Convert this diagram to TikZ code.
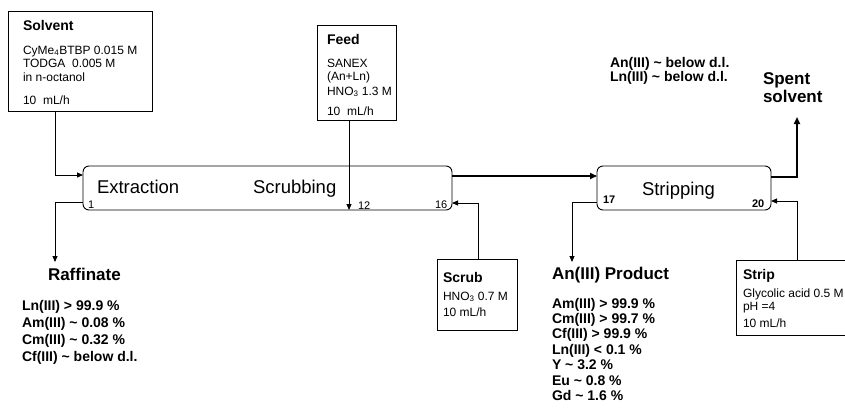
\documentclass[tikz,border=0pt]{standalone}
\usepackage{fontspec}
\setmainfont{Liberation Sans}
\usetikzlibrary{arrows.meta}
\begin{document}
\begin{tikzpicture}[x=1pt,y=-1pt,
  every node/.style={inner sep=0pt, outer sep=0pt},
  box/.style={draw, line width=0.8pt},
  unit/.style={draw, line width=0.9pt, rounded corners=6pt},
  txt/.style={anchor=base west, font=\fontsize{12}{14}\selectfont},
  ttl/.style={anchor=base west, font=\fontsize{14}{16}\selectfont\bfseries},
  big/.style={anchor=base west, font=\fontsize{17}{20}\selectfont\bfseries},
  res/.style={anchor=base west, font=\fontsize{14}{16}\selectfont\bfseries},
  stage/.style={anchor=base west, font=\fontsize{18.5}{22}\selectfont},
  num/.style={anchor=base west, font=\fontsize{11}{13}\selectfont},
  bnum/.style={anchor=base west, font=\fontsize{11}{13}\selectfont\bfseries},
  arr/.style={-{Triangle[length=6pt,width=5pt]}, line width=0.9pt},
  warr/.style={-{Triangle[length=7pt,width=6pt]}, line width=1.6pt},
]
\clip (0,0) rectangle (845,410);
\fill[white] (0,0) rectangle (845,410);

% boxes
\node[box, minimum width=144pt, minimum height=100pt] (solvent) at (80,61) {};
\node[box, minimum width=79pt, minimum height=95pt] (feed) at (356.5,72.5) {};
\node[unit, minimum width=369pt, minimum height=44pt] (extr) at (267.5,188) {};
\node[unit, minimum width=174pt, minimum height=44pt] (strp) at (684,188) {};
\node[box, minimum width=80pt, minimum height=71pt] (scrub) at (477,294.5) {};
\node[box, minimum width=130pt, minimum height=75pt] (strip) at (801,297.5) {};

% solvent text
\node[ttl] (solt) at (23,30) {Solvent};
\node[txt] (sol1) at (23,54) {CyMe\textsubscript{4}BTBP 0.015 M};
\node[txt] (sol2) at (23,67) {TODGA\ \ 0.005 M};
\node[txt] (sol3) at (23,81) {in n-octanol};
\node[txt] (sol4) at (23,104) {10\ \ mL/h};

% feed text
\node[ttl] (feedt) at (327,44) {Feed};
\node[txt] (feed1) at (327,67) {SANEX};
\node[txt] (feed2) at (327,80.5) {(An+Ln)};
\node[txt] (feed3) at (327,95) {HNO\textsubscript{3} 1.3 M};
\node[txt] (feed4) at (327,115) {10\ \ mL/h};

% top right
\node[res] (ov1) at (610,67) {An(III) \textasciitilde\ below d.l.};
\node[res] (ov2) at (610,81) {Ln(III) \textasciitilde\ below d.l.};
\node[big] (sp1) at (763,84) {Spent};
\node[big] (sp2) at (763,102) {solvent};

% stage labels
\node[stage] (lext) at (97,193) {Extraction};
\node[stage] (lscr) at (253,193) {Scrubbing};
\node[stage] (lstr) at (642,195) {Stripping};
\node[num] (n1) at (88,208) {1};
\node[num] (n12) at (358,209) {12};
\node[num] (n16) at (435,208) {16};
\node[bnum] (n17) at (603,203) {17};
\node[bnum] (n20) at (752,207) {20};

% raffinate
\node[big] (raf) at (48,280) {Raffinate};
\foreach \t [count=\i from 0] in {Ln(III) > 99.9 \%, Am(III) \textasciitilde\ 0.08 \%, Cm(III) \textasciitilde\ 0.32 \%, Cf(III) \textasciitilde\ below d.l.}
  \node[res] (raf\i) at (22,{310+17*\i}) {\t};

% product
\node[big] (prod) at (552,279) {An(III) Product};
\foreach \t [count=\i from 0] in {Am(III) > 99.9 \%, Cm(III) > 99.7 \%, Cf(III) > 99.9 \%, Ln(III) < 0.1 \%, Y \textasciitilde\ 3.2 \%, Eu \textasciitilde\ 0.8 \%, Gd \textasciitilde\ 1.6 \%}
  \node[res] (prod\i) at (552,{308+15.4*\i}) {\t};

% scrub text
\node[ttl] (scrt) at (443,282) {Scrub};
\node[txt] (scr1) at (443,300) {HNO\textsubscript{3} 0.7 M};
\node[txt] (scr2) at (443,316) {10 mL/h};

% strip text
\node[ttl] (stt) at (743,279) {Strip};
\node[txt] (st1) at (743,297) {Glycolic acid 0.5 M};
\node[txt] (st2) at (743,310) {pH =4};
\node[txt] (st3) at (743,327) {10 mL/h};

% end points
\coordinate (rafend) at (55,262);
\coordinate (prodend) at (572,262);
\coordinate (spentend) at (797,117);

% connectors
\draw[arr] ([xshift=-25pt]solvent.south) |- ([yshift=13pt]extr.west);
\draw[arr] ([yshift=-14pt]extr.west) -| (rafend);
\draw[arr] ([xshift=-7.5pt]feed.south) -- ([xshift=-7.5pt]feed.south |- extr.south);
\draw[arr] ([xshift=1.5pt]scrub.north) |- ([yshift=-15pt]extr.east);
\draw[warr] ([yshift=12pt]extr.east) -- ([yshift=12pt]strp.west);
\draw[arr] ([yshift=-14pt]strp.west) -| (prodend);
\draw[arr] ([xshift=-4pt]strip.north) |- ([yshift=-13pt]strp.east);
\draw[warr] ([yshift=11pt]strp.east) -| (spentend);
\end{tikzpicture}
\end{document}
